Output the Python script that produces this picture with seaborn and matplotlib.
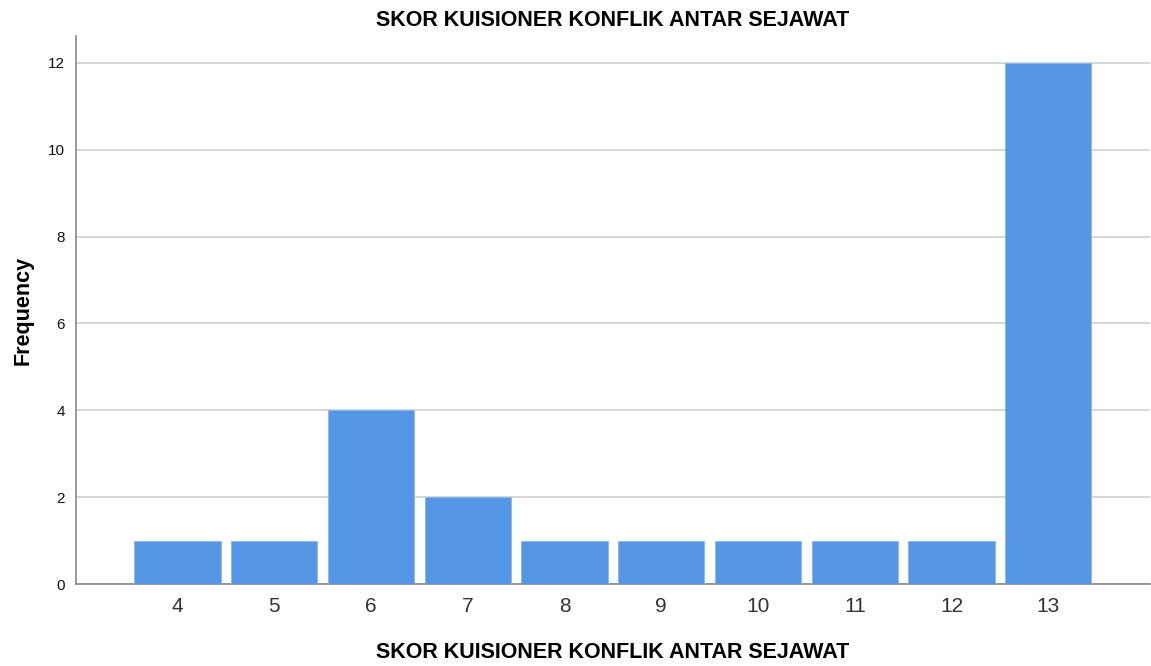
import pandas as pd
import seaborn as sns
import matplotlib
matplotlib.use("Agg")
import matplotlib.pyplot as plt

scores = ["4", "5", "6", "7", "8", "9", "10", "11", "12", "13"]
frequency = [1, 1, 4, 2, 1, 1, 1, 1, 1, 12]
yticks = [0, 2, 4, 6, 8, 10, 12]

df = pd.DataFrame({"score": scores, "freq": frequency})

sns.set_style("white")
plt.rcParams["font.family"] = ["Liberation Sans", "DejaVu Sans"]
plt.rcParams["text.color"] = "black"
plt.rcParams["axes.labelcolor"] = "black"

fig = plt.figure(figsize=(11.51, 6.66), dpi=100)
ax = fig.add_axes([0.066, 0.123, 0.933, 0.823])

sns.barplot(data=df, x="score", y="freq", order=scores, color="#5596E5",
            width=0.89, edgecolor="#8AB6EE", linewidth=0.6, saturation=1, ax=ax, zorder=3)

ax.set_xlim(-1.05, 10.05)
ax.set_ylim(0, 12.62)
ax.set_yticks(yticks)
ax.set_yticklabels([str(t) for t in yticks], fontsize=11, color="#111111")
ax.tick_params(axis="x", labelsize=15, colors="#333333", length=0, pad=9)
ax.tick_params(axis="y", length=0, pad=8)
ax.yaxis.grid(True, color="#D0D0D0", linewidth=1.2, zorder=0)
ax.set_axisbelow(True)

for s in ["top", "right"]:
    ax.spines[s].set_visible(False)
for s in ["left", "bottom"]:
    ax.spines[s].set_color("#888888")
    ax.spines[s].set_linewidth(1.2)

ax.set_title("SKOR KUISIONER KONFLIK ANTAR SEJAWAT", fontsize=15.5, fontweight="bold", pad=7)
ax.set_xlabel("SKOR KUISIONER KONFLIK ANTAR SEJAWAT", fontsize=15.5, fontweight="bold", labelpad=19)
ax.set_ylabel("Frequency", fontsize=15.5, fontweight="bold", labelpad=10)

fig.savefig("out.png", dpi=100)
